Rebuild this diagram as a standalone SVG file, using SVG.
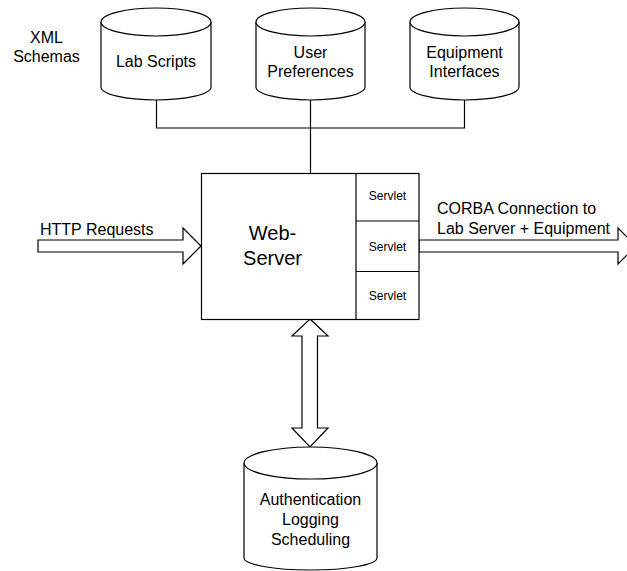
<svg xmlns="http://www.w3.org/2000/svg" width="627" height="571" viewBox="0 0 627 571">
  <style>
    .shape { fill: #ffffff; stroke: #000000; stroke-width: 1.2; }
    .line { fill: none; stroke: #000000; stroke-width: 1.2; }
    text { font-family: "Liberation Sans", Arial, sans-serif; fill: #000000; text-anchor: middle; }
    .t16 { font-size: 16px; }
    .t12 { font-size: 12px; }
    .t20 { font-size: 20px; }
    .left { text-anchor: start; }
  </style>
  <rect width="627" height="571" fill="#ffffff"/>

  <!-- connectors -->
  <g id="connectors">
    <polyline class="line" points="156.5,100 156.5,128 464.5,128 464.5,100"/>
    <line class="line" x1="310.5" y1="100" x2="310.5" y2="173"/>
    <polygon id="http-arrow" class="shape" points="38,240 183,240 183,228 201,246 183,264 183,252 38,252"/>
    <polygon id="corba-arrow" class="shape" points="419,240 618,240 618,228 636,246 618,264 618,252 419,252"/>
    <polygon id="db-arrow" class="shape" points="310,319 328,336 317.5,336 317.5,428 328,428 310,447 292,428 302,428 302,336 292,336"/>
  </g>

  <!-- labels -->
  <g id="labels">
    <text class="t16" x="46.5" y="43">XML</text>
    <text class="t16" x="46.5" y="62">Schemas</text>
    <text class="t16 left" x="40" y="235">HTTP Requests</text>
    <text class="t16 left" x="437" y="214">CORBA Connection to</text>
    <text class="t16 left" x="437" y="234">Lab Server + Equipment</text>
  </g>

  <g id="lab-scripts">
    <path class="shape" d="M101,22 L101,87 A55,13 0 0 0 211,87 L211,22"/>
    <ellipse class="shape" cx="156" cy="22" rx="55" ry="14"/>
    <text class="t16" x="156" y="67">Lab Scripts</text>
  </g>

  <g id="user-preferences">
    <path class="shape" d="M256,22 L256,87 A54.5,13 0 0 0 365,87 L365,22"/>
    <ellipse class="shape" cx="310.5" cy="22" rx="54.5" ry="14"/>
    <text class="t16" x="310.5" y="58">User</text>
    <text class="t16" x="310.5" y="77">Preferences</text>
  </g>

  <g id="equipment-interfaces">
    <path class="shape" d="M410,22 L410,87 A54.5,13 0 0 0 519,87 L519,22"/>
    <ellipse class="shape" cx="464.5" cy="22" rx="54.5" ry="14"/>
    <text class="t16" x="464.5" y="58">Equipment</text>
    <text class="t16" x="464.5" y="77">Interfaces</text>
  </g>

  <g id="web-server">
    <rect class="shape" x="201.5" y="173.5" width="217.5" height="146"/>
    <line class="line" x1="356" y1="173.5" x2="356" y2="319.5"/>
    <line class="line" x1="356" y1="221" x2="419" y2="221"/>
    <line class="line" x1="356" y1="271.5" x2="419" y2="271.5"/>
    <text class="t20" x="272.5" y="240">Web-</text>
    <text class="t20" x="272.5" y="265">Server</text>
    <text class="t12" x="387.5" y="199.5">Servlet</text>
    <text class="t12" x="387.5" y="250.5">Servlet</text>
    <text class="t12" x="387.5" y="299.5">Servlet</text>
  </g>

  <g id="auth-store">
    <path class="shape" d="M244,463 L244,558 A66.5,12 0 0 0 377,558 L377,463"/>
    <ellipse class="shape" cx="310.5" cy="463" rx="66.5" ry="16"/>
    <text class="t16" x="310.5" y="505">Authentication</text>
    <text class="t16" x="310.5" y="525">Logging</text>
    <text class="t16" x="310.5" y="545">Scheduling</text>
  </g>
</svg>
